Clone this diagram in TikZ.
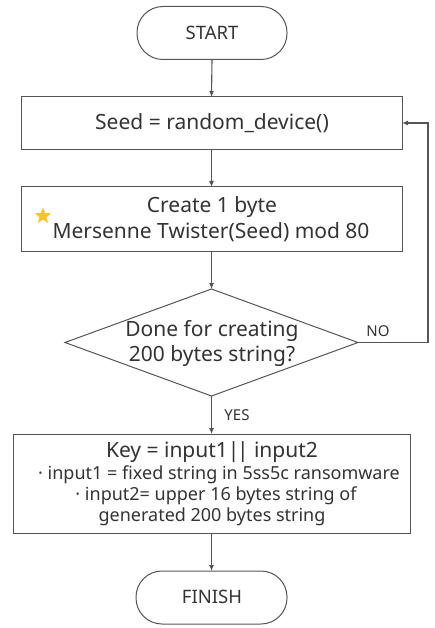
\documentclass[tikz,border=0pt]{standalone}
\usepackage{fontspec}
\setmainfont{Noto Sans}
\usetikzlibrary{shapes.geometric,arrows.meta}
\definecolor{txt}{HTML}{333333}
\definecolor{ln}{HTML}{555555}
\definecolor{staryel}{HTML}{F7C52B}
\begin{document}
\begin{tikzpicture}[x=1pt,y=-1pt,
  every node/.style={text=txt,inner sep=0pt,outer sep=0pt},
  conn/.style={draw=ln,line width=1.1pt,-{Latex[length=6pt,width=5pt]}},
  procbox/.style={draw=ln,line width=1pt,rectangle},
  big/.style={font=\fontsize{21}{24}\selectfont},
  mid/.style={font=\fontsize{18}{21}\selectfont},
  small/.style={font=\fontsize{18.5}{21}\selectfont},
  lbl/.style={font=\fontsize{15}{17}\selectfont}]
\useasboundingbox (0,0) rectangle (434,628);
\node[procbox,rounded corners=26pt,minimum width=150pt,minimum height=53pt] (start) at (212,33) {};
\node[small] at (212,33) {START};
\node[procbox,minimum width=381pt,minimum height=53pt] (seed) at (211.5,123.5) {};
\node[big] at (212,123) {Seed = random\_device()};
\node[procbox,minimum width=381pt,minimum height=64pt] (create) at (211.5,219) {};
\node[big] at (212,207) {Create 1 byte};
\node[big] at (211,232) {Mersenne Twister(Seed) mod 80};
\node[star,star points=5,star point ratio=2.3,fill=staryel,minimum size=17pt] (star) at (43,216) {};
\node[diamond,draw=ln,line width=1pt,minimum width=293pt,minimum height=107pt,aspect=2.74] (done) at (211.5,342.5) {};
\node[big] at (212,331) {Done for creating};
\node[big] at (212,356) {200 bytes string?};
\node[lbl] at (378,331) {NO};
\node[lbl] at (237,415) {YES};
\node[procbox,minimum width=397pt,minimum height=99pt] (key) at (211.5,483.5) {};
\node[big] at (212,452) {Key = input1{|}\kern-2.5pt{|} input2};
\node[mid] at (219,475) {· input1 = fixed string in 5ss5c ransomware};
\node[mid] at (216,496) {· input2= upper 16 bytes string of};
\node[mid] at (212,517) {generated 200 bytes string};
\node[procbox,rounded corners=26pt,minimum width=151pt,minimum height=53pt] (finish) at (211.5,597.5) {};
\node[small] at (212,597) {FINISH};
\coordinate (loopA) at (428,342.5);
\coordinate (loopB) at (428,123);
\draw[conn] (start.south) -- (seed.north);
\draw[conn] (seed.south) -- (create.north);
\draw[conn] (create.south) -- (done.north);
\draw[conn] (done.south) -- (key.north);
\draw[conn] (key.south) -- (finish.north);
\draw[conn] (done.east) -- (loopA) -- (loopB) -- (seed.east |- loopB);
\end{tikzpicture}
\end{document}
